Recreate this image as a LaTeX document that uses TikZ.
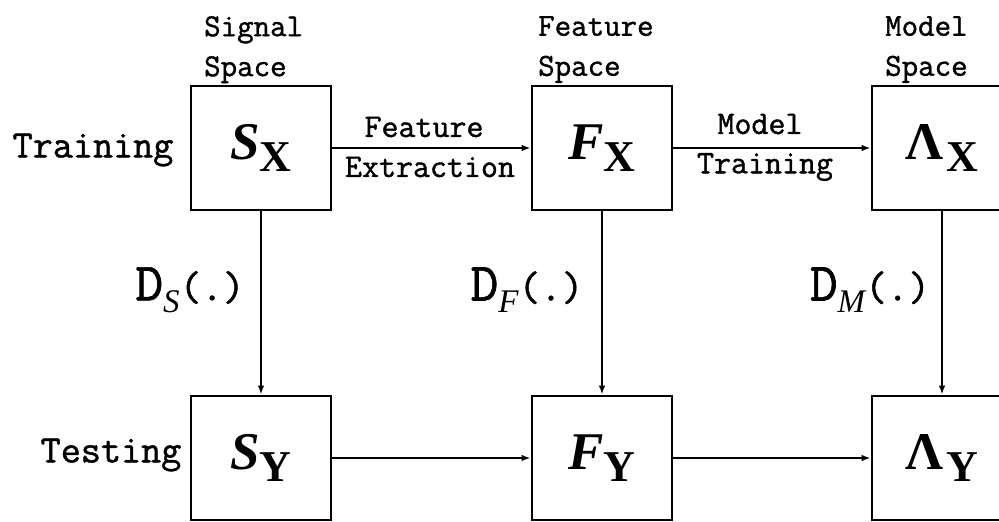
\documentclass[tikz,border=0pt]{standalone}
\usepackage{fontspec}
\setmainfont{Liberation Serif}
\newfontfamily\monof[FakeBold=1.2]{Latin Modern Mono}
\newfontfamily\serf{Liberation Serif}
\usetikzlibrary{arrows.meta}
\newcommand\boxsym[2]{{\serf\fontsize{53}{53}\selectfont\bfseries\itshape #1}\raisebox{-12pt}{\serf\fontsize{44}{44}\selectfont\bfseries #2}}
\newcommand\boxlam[1]{{\serf\fontsize{53}{53}\selectfont\bfseries Λ}\kern3pt\raisebox{-12pt}{\serf\fontsize{44}{44}\selectfont\bfseries #1}}
\newcommand\dlabel[1]{{\monof\fontsize{54}{54}\selectfont D}\raisebox{-12pt}{\serf\fontsize{33}{33}\selectfont\itshape #1}{\monof\fontsize{42}{42}\selectfont(.)}}
\begin{document}
\begin{tikzpicture}[x=1pt,y=-1pt,
  box/.style={draw,line width=2.6pt,minimum width=140pt,minimum height=124pt,inner sep=0pt},
  conn/.style={line width=2.1pt,-{Latex[length=9pt,width=6.5pt]}},
  rowlab/.style={font=\monof\fontsize{39}{39}\selectfont,inner sep=0pt},
  spacelab/.style={font=\monof\fontsize{32}{40}\selectfont,align=left,inner sep=0pt,anchor=north west},
  edgelab/.style={font=\monof\fontsize{33}{33}\selectfont,inner sep=0pt},
  dlab/.style={inner sep=0pt}]
\useasboundingbox (0,0) rectangle (999,522);
\clip (0,0) rectangle (999,522);
% boxes
\node[box] (sx) at (261,148) {\boxsym{S}{X}};
\node[box] (fx) at (602,148) {\boxsym{F}{X}};
\node[box] (lx) at (942,148) {\boxlam{X}};
\node[box] (sy) at (261,458) {\boxsym{S}{Y}};
\node[box] (fy) at (602,458) {\boxsym{F}{Y}};
\node[box] (ly) at (942,458) {\boxlam{Y}};
% space labels
\node[spacelab] (sigsp) at (204,16) {Signal\\Space};
\node[spacelab] (feasp) at (538,16) {Feature\\Space};
\node[spacelab] (modsp) at (885,16) {Model\\Space};
% row labels
\node[rowlab] (train) at (93,150) {Training};
\node[rowlab] (test) at (111,455) {Testing};
% connectors
\draw[conn] (sx) -- (fx);
\draw[conn] (fx) -- (lx);
\draw[conn] (sy) -- (fy);
\draw[conn] (fy) -- (ly);
\draw[conn] (sx) -- (sy);
\draw[conn] (fx) -- (fy);
\draw[conn] (lx) -- (ly);
% edge labels
\node[edgelab] (fe1) at (424,127) {Feature};
\node[edgelab] (fe2) at (430,167) {Extraction};
\node[edgelab] (mt1) at (760,124) {Model};
\node[edgelab] (mt2) at (765,167) {Training};
\node[dlab] (ds) at (190,290) {\dlabel{S}};
\node[dlab] (df) at (527,290) {\dlabel{F}};
\node[dlab] (dm) at (870,290) {\dlabel{M}};
\end{tikzpicture}
\end{document}
